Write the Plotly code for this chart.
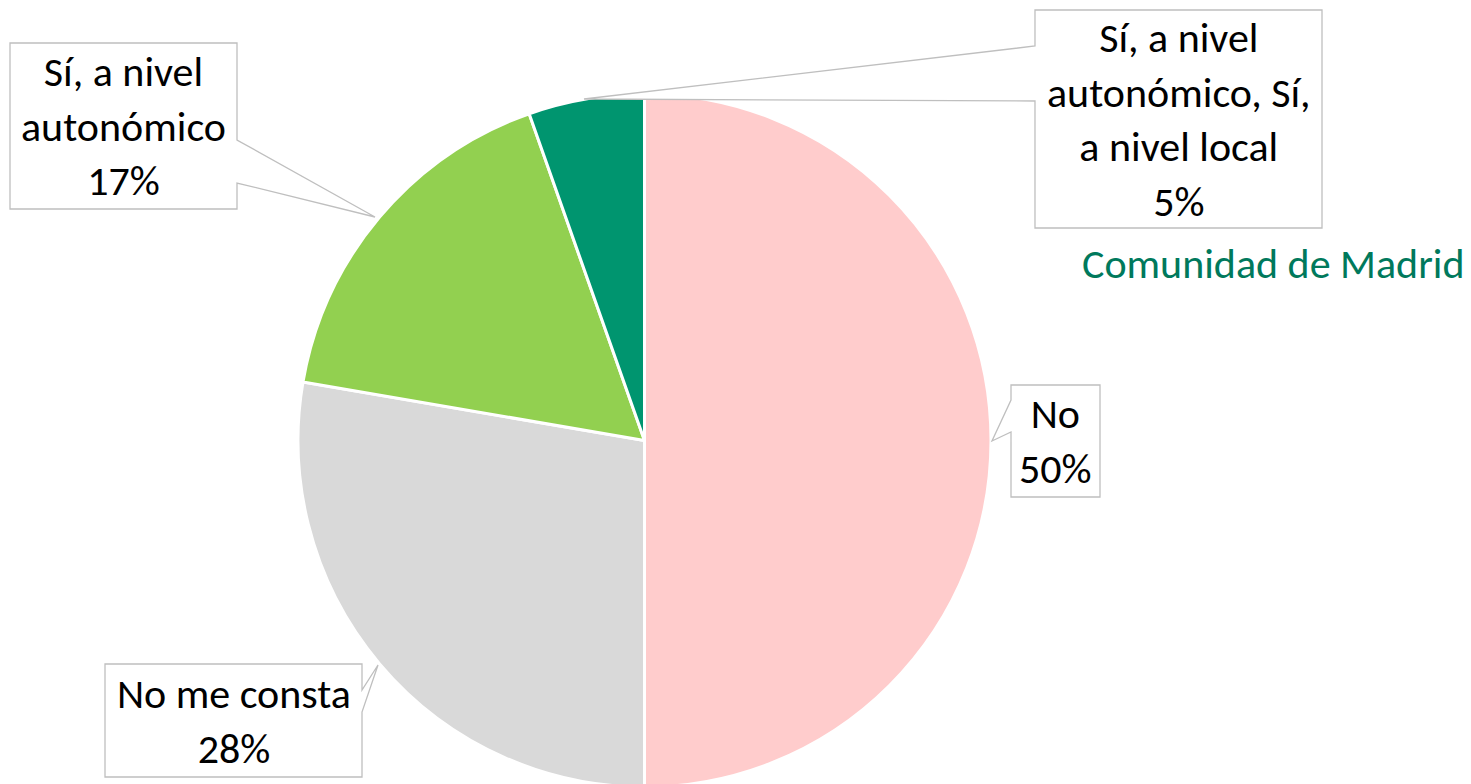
import plotly.graph_objects as go

W, H = 1471, 784
OFF = 8  # page body margin in the browser

labels = ["No", "No me consta", "Sí, a nivel autonómico", "Sí, a nivel autonómico, Sí, a nivel local"]
box_text = ["No", "No me consta", "Sí, a nivel<br>autonómico", "Sí, a nivel<br>autonómico, Sí,<br>a nivel local"]
values = [50.0, 27.7, 16.9, 5.4]
colors = ["#FFCCCC", "#D9D9D9", "#92D050", "#00956F"]

# callout boxes in page pixels: box (x0, y0, x1, y1), wedge side, wedge base (a, b), tip
callouts = [
    dict(box=(1011, 385, 1100, 497), side="left", base=(400, 432), tip=(992, 441)),
    dict(box=(105, 664, 362, 777), side="right", base=(690, 712), tip=(378, 665)),
    dict(box=(10, 43, 237, 209), side="right", base=(140, 183), tip=(375, 217)),
    dict(box=(1035, 10, 1322, 228), side="left", base=(46, 101), tip=(584, 99)),
]


def px(x, y):
    return (x - OFF) / W, 1 - (y - OFF) / H


def callout_path(c):
    x0, y0, x1, y1 = c["box"]
    a, b = c["base"]
    tx, ty = c["tip"]
    if c["side"] == "right":
        pts = [(x0, y0), (x1, y0), (x1, a), (tx, ty), (x1, b), (x1, y1), (x0, y1)]
    else:
        pts = [(x0, y0), (x1, y0), (x1, y1), (x0, y1), (x0, b), (tx, ty), (x0, a)]
    d = ""
    for i, (x, y) in enumerate(pts):
        u, v = px(x, y)
        d += ("M" if i == 0 else "L") + f"{u:.5f},{v:.5f} "
    return d + "Z"


# pie centre about (644, 440) on the page, radius ~346
dx0, dy1 = px(298, 94)
dx1, dy0 = px(991, 787)

fig = go.Figure(go.Pie(
    labels=labels,
    values=values,
    sort=False,
    direction="clockwise",
    rotation=0,
    textinfo="none",
    hoverinfo="label+percent",
    marker=dict(colors=colors, line=dict(color="white", width=3)),
    domain=dict(x=[dx0, dx1], y=[max(dy0, 0), dy1]),
    showlegend=False,
))

total = sum(values)
shapes = []
annotations = []
for c, t, v in zip(callouts, box_text, values):
    shapes.append(dict(type="path", xref="paper", yref="paper", path=callout_path(c),
                       fillcolor="white", line=dict(color="#BFBFBF", width=1.3)))
    x0, y0, x1, y1 = c["box"]
    u, w = px((x0 + x1) / 2, (y0 + y1) / 2)
    annotations.append(dict(x=u, y=w, xref="paper", yref="paper", showarrow=False,
                            xanchor="center", yanchor="middle",
                            text=f"{t}<br>{round(v / total * 100)}%", align="center",
                            font=dict(size=42, color="black")))

u, w = px(1273, 264)
annotations.append(dict(x=u, y=w, xref="paper", yref="paper", showarrow=False,
                        xanchor="center", yanchor="middle",
                        text="Comunidad de Madrid", font=dict(size=42, color="#00795C")))

fig.update_layout(
    width=W, height=H,
    margin=dict(l=0, r=0, t=0, b=0),
    paper_bgcolor="white",
    font=dict(family="Calibri, Carlito, Lato, sans-serif"),
    shapes=shapes,
    annotations=annotations,
)

fig.write_html("out.html")
